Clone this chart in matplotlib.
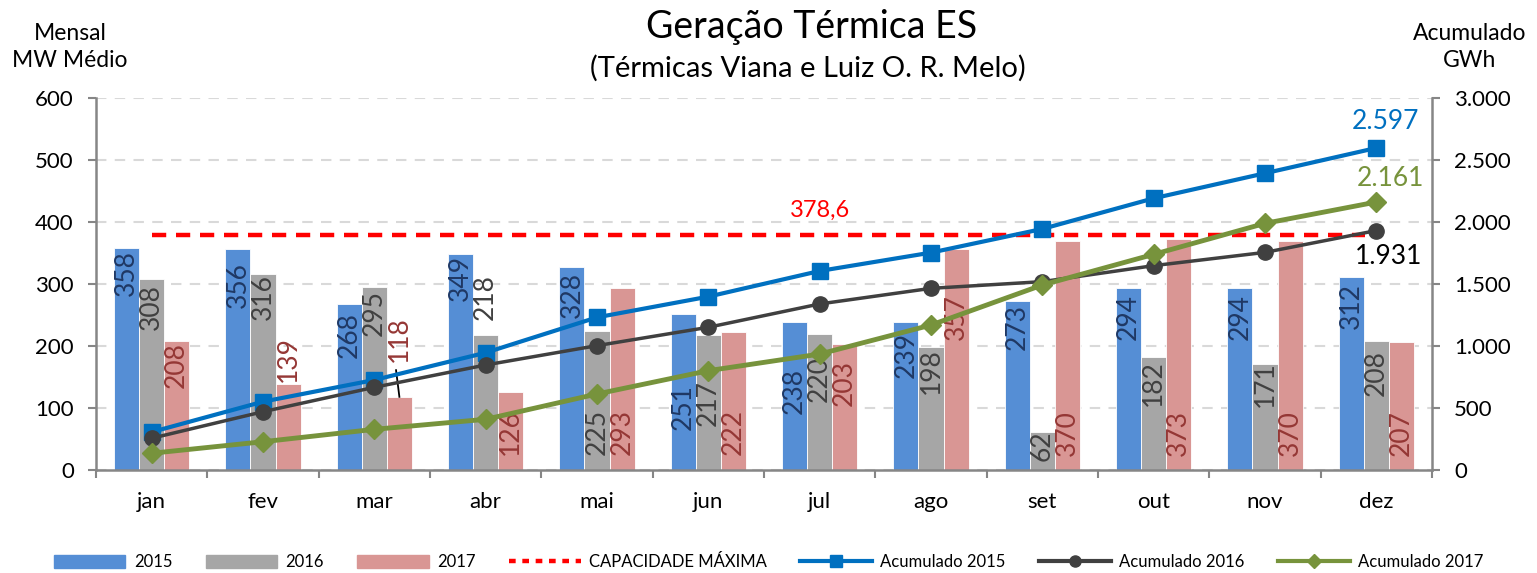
import matplotlib.pyplot as plt
import numpy as np
from matplotlib.lines import Line2D
from matplotlib.patches import Patch
from matplotlib.ticker import FuncFormatter, MultipleLocator

plt.rcParams['font.family'] = ['Lato', 'DejaVu Sans']

# dados
meses = ["jan", "fev", "mar", "abr", "mai", "jun", "jul", "ago", "set", "out", "nov", "dez"]
ger_2015 = [358, 356, 268, 349, 328, 251, 238, 239, 273, 294, 294, 312]
ger_2016 = [308, 316, 295, 218, 225, 217, 220, 198, 62, 182, 171, 208]
ger_2017 = [208, 139, 118, 126, 293, 222, 203, 357, 370, 373, 370, 207]
acum_2015 = [306, 551, 726, 946, 1231, 1398, 1605, 1753, 1944, 2191, 2393, 2597]
acum_2016 = [256, 470, 667, 847, 1003, 1151, 1339, 1465, 1519, 1648, 1755, 1931]
acum_2017 = [135, 228, 328, 409, 613, 801, 935, 1169, 1492, 1739, 1989, 2161]
capacidade = 378.6

# where each bar label sits (centre, in MW medio) - placed by hand like in excel
pos_2015 = [318, 299, 218, 310, 283, 102, 128, 186, 231, 246, 246, 264]
pos_2016 = [262, 279, 253, 279, 61, 108, 147, 160, 40, 140, 139, 157]
pos_2017 = [169, 179, 211, 61, 61, 61, 141, 246, 60, 60, 60, 60]

c_2015, c_2016, c_2017 = "#558ED5", "#A6A6A6", "#D99694"
t_2015, t_2016, t_2017 = "#1F3864", "#404040", "#953735"
c_ac15, c_ac16, c_ac17 = "#0070C0", "#404040", "#77933C"
cinza = "#868686"

fig = plt.figure(figsize=(15.37, 5.73), dpi=100)
ax = fig.add_axes([96 / 1537, 103 / 573, 1336 / 1537, 372 / 573])
x = np.arange(len(meses))
w = 0.225

ax.bar(x - w, ger_2015, w, color=c_2015, edgecolor="white", linewidth=0.6, zorder=2)
ax.bar(x, ger_2016, w, color=c_2016, edgecolor="white", linewidth=0.6, zorder=2)
ax.bar(x + w, ger_2017, w, color=c_2017, edgecolor="white", linewidth=0.6, zorder=2)

for vals, pos, off, col in [(ger_2015, pos_2015, -w, t_2015),
                            (ger_2016, pos_2016, 0, t_2016),
                            (ger_2017, pos_2017, w, t_2017)]:
    for i, (v, p) in enumerate(zip(vals, pos)):
        ax.text(i + off, p, str(v), rotation=90, ha="center", va="center",
                fontsize=19, color=col, zorder=4)

# leader line for the 118 label
ax.plot([2 + w - 0.03, 2 + w], [161, 118], color="black", lw=1.3, zorder=4)

ax.plot([0, 10.9], [capacidade, capacidade], color="#FF0000", lw=3.2,
        dashes=(3.2, 2.2), zorder=3)
ax.annotate("378,6", (6, capacidade), xytext=(0, 18), textcoords="offset points",
            ha="center", va="center", fontsize=17, color="#FF0000")

ax.set_xlim(-0.5, 11.5)
ax.set_ylim(0, 600)
ax.yaxis.set_major_locator(MultipleLocator(100))
ax.grid(axis="y", color="#D9D9D9", lw=1.5, dashes=(5, 4), zorder=0)
ax.set_axisbelow(True)
ax.set_xticks(np.arange(-0.5, 12, 1))
ax.set_xticklabels([])
ax.set_xticks(x, minor=True)
ax.set_xticklabels(meses, minor=True, fontsize=16)
ax.tick_params(axis="x", which="minor", length=0, pad=16)
ax.tick_params(axis="x", which="major", length=6, width=1.5, color=cinza)
ax.tick_params(axis="y", length=6, width=1.5, color=cinza, labelsize=16, pad=10)
for s in ["left", "right", "bottom"]:
    ax.spines[s].set_color(cinza)
    ax.spines[s].set_linewidth(1.8)
ax.spines["top"].set_visible(False)

ax2 = ax.twinx()
ax2.set_ylim(0, 3000)
ax2.yaxis.set_major_locator(MultipleLocator(500))
ax2.yaxis.set_major_formatter(FuncFormatter(lambda v, p: f"{v:,.0f}".replace(",", ".")))
ax2.tick_params(axis="y", length=6, width=1.5, color=cinza, labelsize=16, pad=10)
for s in ax2.spines.values():
    s.set_visible(False)

ax2.plot(x, acum_2015, color=c_ac15, lw=3, marker="s", ms=11, zorder=3)
ax2.plot(x, acum_2016, color=c_ac16, lw=2.5, marker="o", ms=11, zorder=4)
ax2.plot(x, acum_2017, color=c_ac17, lw=3.5, marker="D", ms=10, zorder=5)

ax2.annotate(f"{acum_2015[-1]:,}".replace(",", "."), (11, acum_2015[-1]), xytext=(6.5, 19),
             textcoords="offset points", ha="center", va="center", fontsize=19, color=c_ac15)
ax2.annotate(f"{acum_2017[-1]:,}".replace(",", "."), (11, acum_2017[-1]), xytext=(10, 17),
             textcoords="offset points", ha="center", va="center", fontsize=19, color=c_ac17)
ax2.annotate(f"{acum_2016[-1]:,}".replace(",", "."), (11, acum_2016[-1]), xytext=(9, -19),
             textcoords="offset points", ha="center", va="center", fontsize=19, color="black")

fig.text(812 / 1537, 1 - 27 / 573, "Geração Térmica ES", ha="center", va="center", fontsize=27)
fig.text(808 / 1537, 1 - 68 / 573, "(Térmicas Viana e Luiz O. R. Melo)", ha="center",
         va="center", fontsize=21)
fig.text(70 / 1537, 1 - 47 / 573, "Mensal\nMW Médio", ha="center", va="center",
         fontsize=16.5, linespacing=1.4)
fig.text(1470 / 1537, 1 - 47 / 573, "Acumulado\nGWh", ha="center", va="center",
         fontsize=16.5, linespacing=1.4)

handles = [
    Patch(color=c_2015, label="2015"),
    Patch(color=c_2016, label="2016"),
    Patch(color=c_2017, label="2017"),
    Line2D([], [], color="#FF0000", lw=3.2, dashes=(1.5, 1.5), label="CAPACIDADE MÁXIMA"),
    Line2D([], [], color=c_ac15, lw=3, marker="s", ms=8, label="Acumulado 2015"),
    Line2D([], [], color=c_ac16, lw=3, marker="o", ms=8, label="Acumulado 2016"),
    Line2D([], [], color=c_ac17, lw=3, marker="D", ms=7, label="Acumulado 2017"),
]
fig.legend(handles=handles, loc="center", bbox_to_anchor=(0.5, 1 - 562 / 573), ncol=7,
           frameon=False, fontsize=12, handlelength=4.3, handleheight=0.8,
           columnspacing=2.0, handletextpad=0.5)

fig.savefig("out.png", dpi=100)
